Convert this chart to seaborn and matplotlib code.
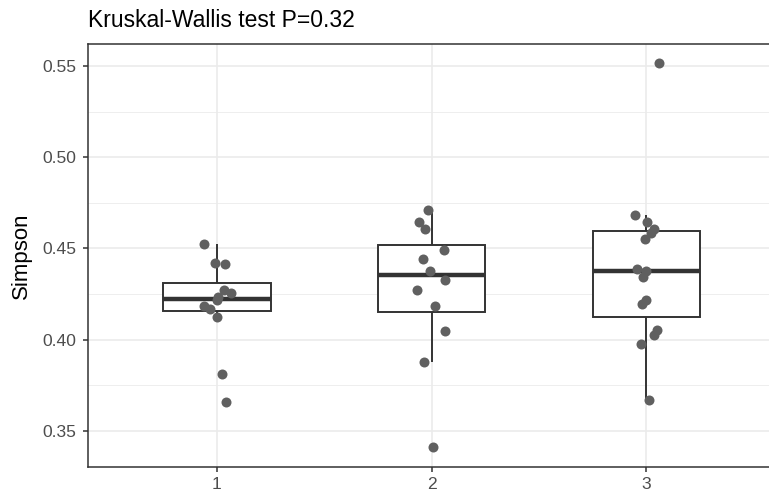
import numpy as np
import pandas as pd
import matplotlib
matplotlib.use('Agg')
import matplotlib.pyplot as plt
import seaborn as sns

sns.set_style("white")
plt.rcParams['font.family'] = ['Liberation Sans', 'DejaVu Sans']

# Simpson diversity values
group_labels = ['1', '2', '3']
simpson_1 = [0.4525, 0.4415, 0.4423, 0.4273, 0.4255, 0.4233, 0.4215,
             0.4182, 0.4168, 0.4122, 0.3812, 0.3656]
simpson_2 = [0.4711, 0.4644, 0.4606, 0.4491, 0.4441, 0.4379, 0.4328,
             0.4273, 0.4184, 0.4045, 0.3877, 0.3410]
simpson_3 = [0.5515, 0.4684, 0.4646, 0.4609, 0.4587, 0.4554, 0.4390,
             0.4376, 0.4346, 0.4219, 0.4193, 0.4054, 0.4027, 0.3976, 0.3667]
y_ticks = [0.35, 0.40, 0.45, 0.50, 0.55]
title = 'Kruskal-Wallis test P=0.32'

df = pd.DataFrame({
    'group': [group_labels[0]] * len(simpson_1)
             + [group_labels[1]] * len(simpson_2)
             + [group_labels[2]] * len(simpson_3),
    'Simpson': simpson_1 + simpson_2 + simpson_3,
})

W, H = 769, 492
fig = plt.figure(figsize=(W / 100, H / 100), dpi=100)
ax = fig.add_axes([88 / W, 1 - 466.7 / H, 1 - 88 / W, (466.7 - 44.3) / H])

# grid (ggplot theme_bw look)
for v in np.arange(0.325, 0.6, 0.05):
    ax.axhline(v, color='#EBEBEB', lw=0.6, zorder=0)
for v in y_ticks:
    ax.axhline(v, color='#EBEBEB', lw=1.2, zorder=0)
for i in range(len(group_labels)):
    ax.axvline(i, color='#EBEBEB', lw=1.2, zorder=0)

sns.boxplot(data=df, x='group', y='Simpson', order=group_labels, ax=ax,
            color='white', linecolor='#333333', linewidth=1.4, width=0.5,
            showcaps=False, showfliers=False,
            medianprops=dict(linewidth=3.2, color='#333333'), zorder=2)

np.random.seed(7)
sns.stripplot(data=df, x='group', y='Simpson', order=group_labels, ax=ax,
              color='#606060', size=7.2, jitter=0.07, linewidth=0, zorder=3)

ax.set_xlim(-0.6, 2.571)
ax.set_ylim(0.3304, 0.5619)
ax.set_yticks(y_ticks)
ax.set_yticklabels([f'{v:.2f}' for v in y_ticks])
ax.set_xlabel('')
ax.set_ylabel('Simpson', fontsize=16, color='black', labelpad=7)
ax.set_title(title, loc='left', fontsize=16.5, pad=12.5, color='black')

ax.tick_params(axis='both', which='major', length=3.6, width=1.1,
               color='#333333', labelcolor='#4D4D4D', labelsize=12.6,
               left=True, bottom=True)
ax.tick_params(axis='y', pad=5)
ax.tick_params(axis='x', pad=3.5)

for name, sp in ax.spines.items():
    sp.set_color('#333333')
    sp.set_linewidth(1.1)
ax.spines['right'].set_visible(False)
ax.grid(False)

fig.savefig('out.png', dpi=100)
